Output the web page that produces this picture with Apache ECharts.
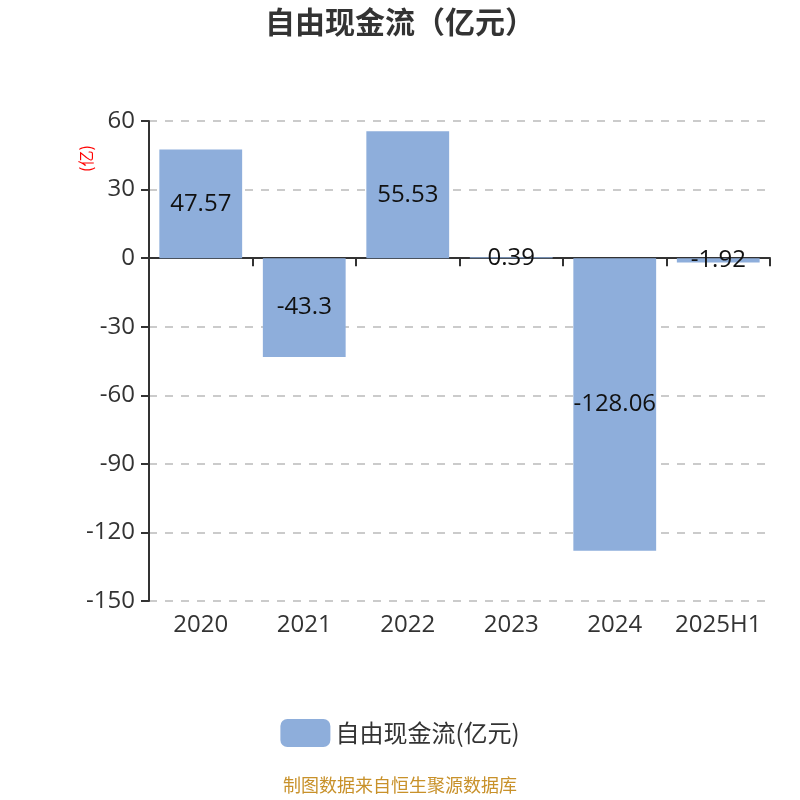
<!DOCTYPE html>
<html>
<head>
<meta charset="utf-8">
<script src="https://cdn.jsdelivr.net/npm/echarts@6/dist/echarts.min.js"></script>
<style>
  html, body { margin: 0; padding: 0; background: #fff; }
  #main { width: 800px; height: 800px; }
</style>
</head>
<body>
<div id="main"></div>
<script>
// 数据
var years = ['2020', '2021', '2022', '2023', '2024', '2025H1'];
var fcf = [47.57, -43.3, 55.53, 0.39, -128.06, -1.92];
var seriesName = '自由现金流(亿元)';

var myChart = echarts.init(document.getElementById('main'));
var font = '"Open Sans", "Noto Sans CJK SC", sans-serif';
var cjk = '"Noto Sans CJK SC", sans-serif';
var option = {
  backgroundColor: '#fff',
  title: {
    text: '自由现金流（亿元）',
    left: 'center',
    top: 2,
    textStyle: { fontSize: 30, fontWeight: 'bold', color: '#333', fontFamily: cjk }
  },
  grid: { left: 149, right: 30, top: 121, bottom: 199, containLabel: false, outerBoundsMode: 'none' },
  legend: {
    bottom: 48,
    left: 'center',
    itemWidth: 50,
    itemHeight: 28,
    itemGap: 10,
    textStyle: { fontSize: 24, color: '#333', fontFamily: cjk },
    data: [seriesName]
  },
  graphic: [
    {
      type: 'text', left: 'center', top: 776,
      style: { text: '制图数据来自恒生聚源数据库', fontSize: 18, fill: '#c8912a', fontFamily: cjk }
    },
    {
      type: 'text', x: 78, y: 172, rotation: Math.PI / 2,
      style: { text: '(亿)', fontSize: 16, fill: 'red', fontFamily: cjk }
    }
  ],
  xAxis: [
    {
      type: 'category',
      data: years,
      axisLine: { onZero: true, lineStyle: { color: '#333', width: 2 } },
      axisTick: { show: true, length: 8, lineStyle: { color: '#333', width: 2 } },
      axisLabel: { show: false }
    },
    {
      type: 'category',
      data: years,
      position: 'bottom',
      axisLine: { show: false, onZero: false },
      axisTick: { show: false },
      axisLabel: { show: true, interval: 0, hideOverlap: false, fontSize: 24, color: '#333', margin: 12, fontFamily: font }
    }
  ],
  yAxis: {
    type: 'value',
    min: -150, max: 60, interval: 30,
    axisLine: { show: true, lineStyle: { color: '#333', width: 2 } },
    axisTick: { show: true, length: 8, lineStyle: { color: '#333', width: 2 } },
    axisLabel: { fontSize: 24, color: '#333', margin: 14, fontFamily: font },
    splitLine: { lineStyle: { type: [8, 8], color: '#bbb', width: 1.5 } }
  },
  series: [
    {
      name: seriesName,
      type: 'bar',
      data: fcf,
      barWidth: '80%',
      itemStyle: { color: '#8eaedb' },
      label: {
        show: true,
        position: 'inside',
        fontSize: 24,
        color: '#111',
        fontFamily: font
      }
    }
  ]
};
myChart.setOption(option);
</script>
</body>
</html>
